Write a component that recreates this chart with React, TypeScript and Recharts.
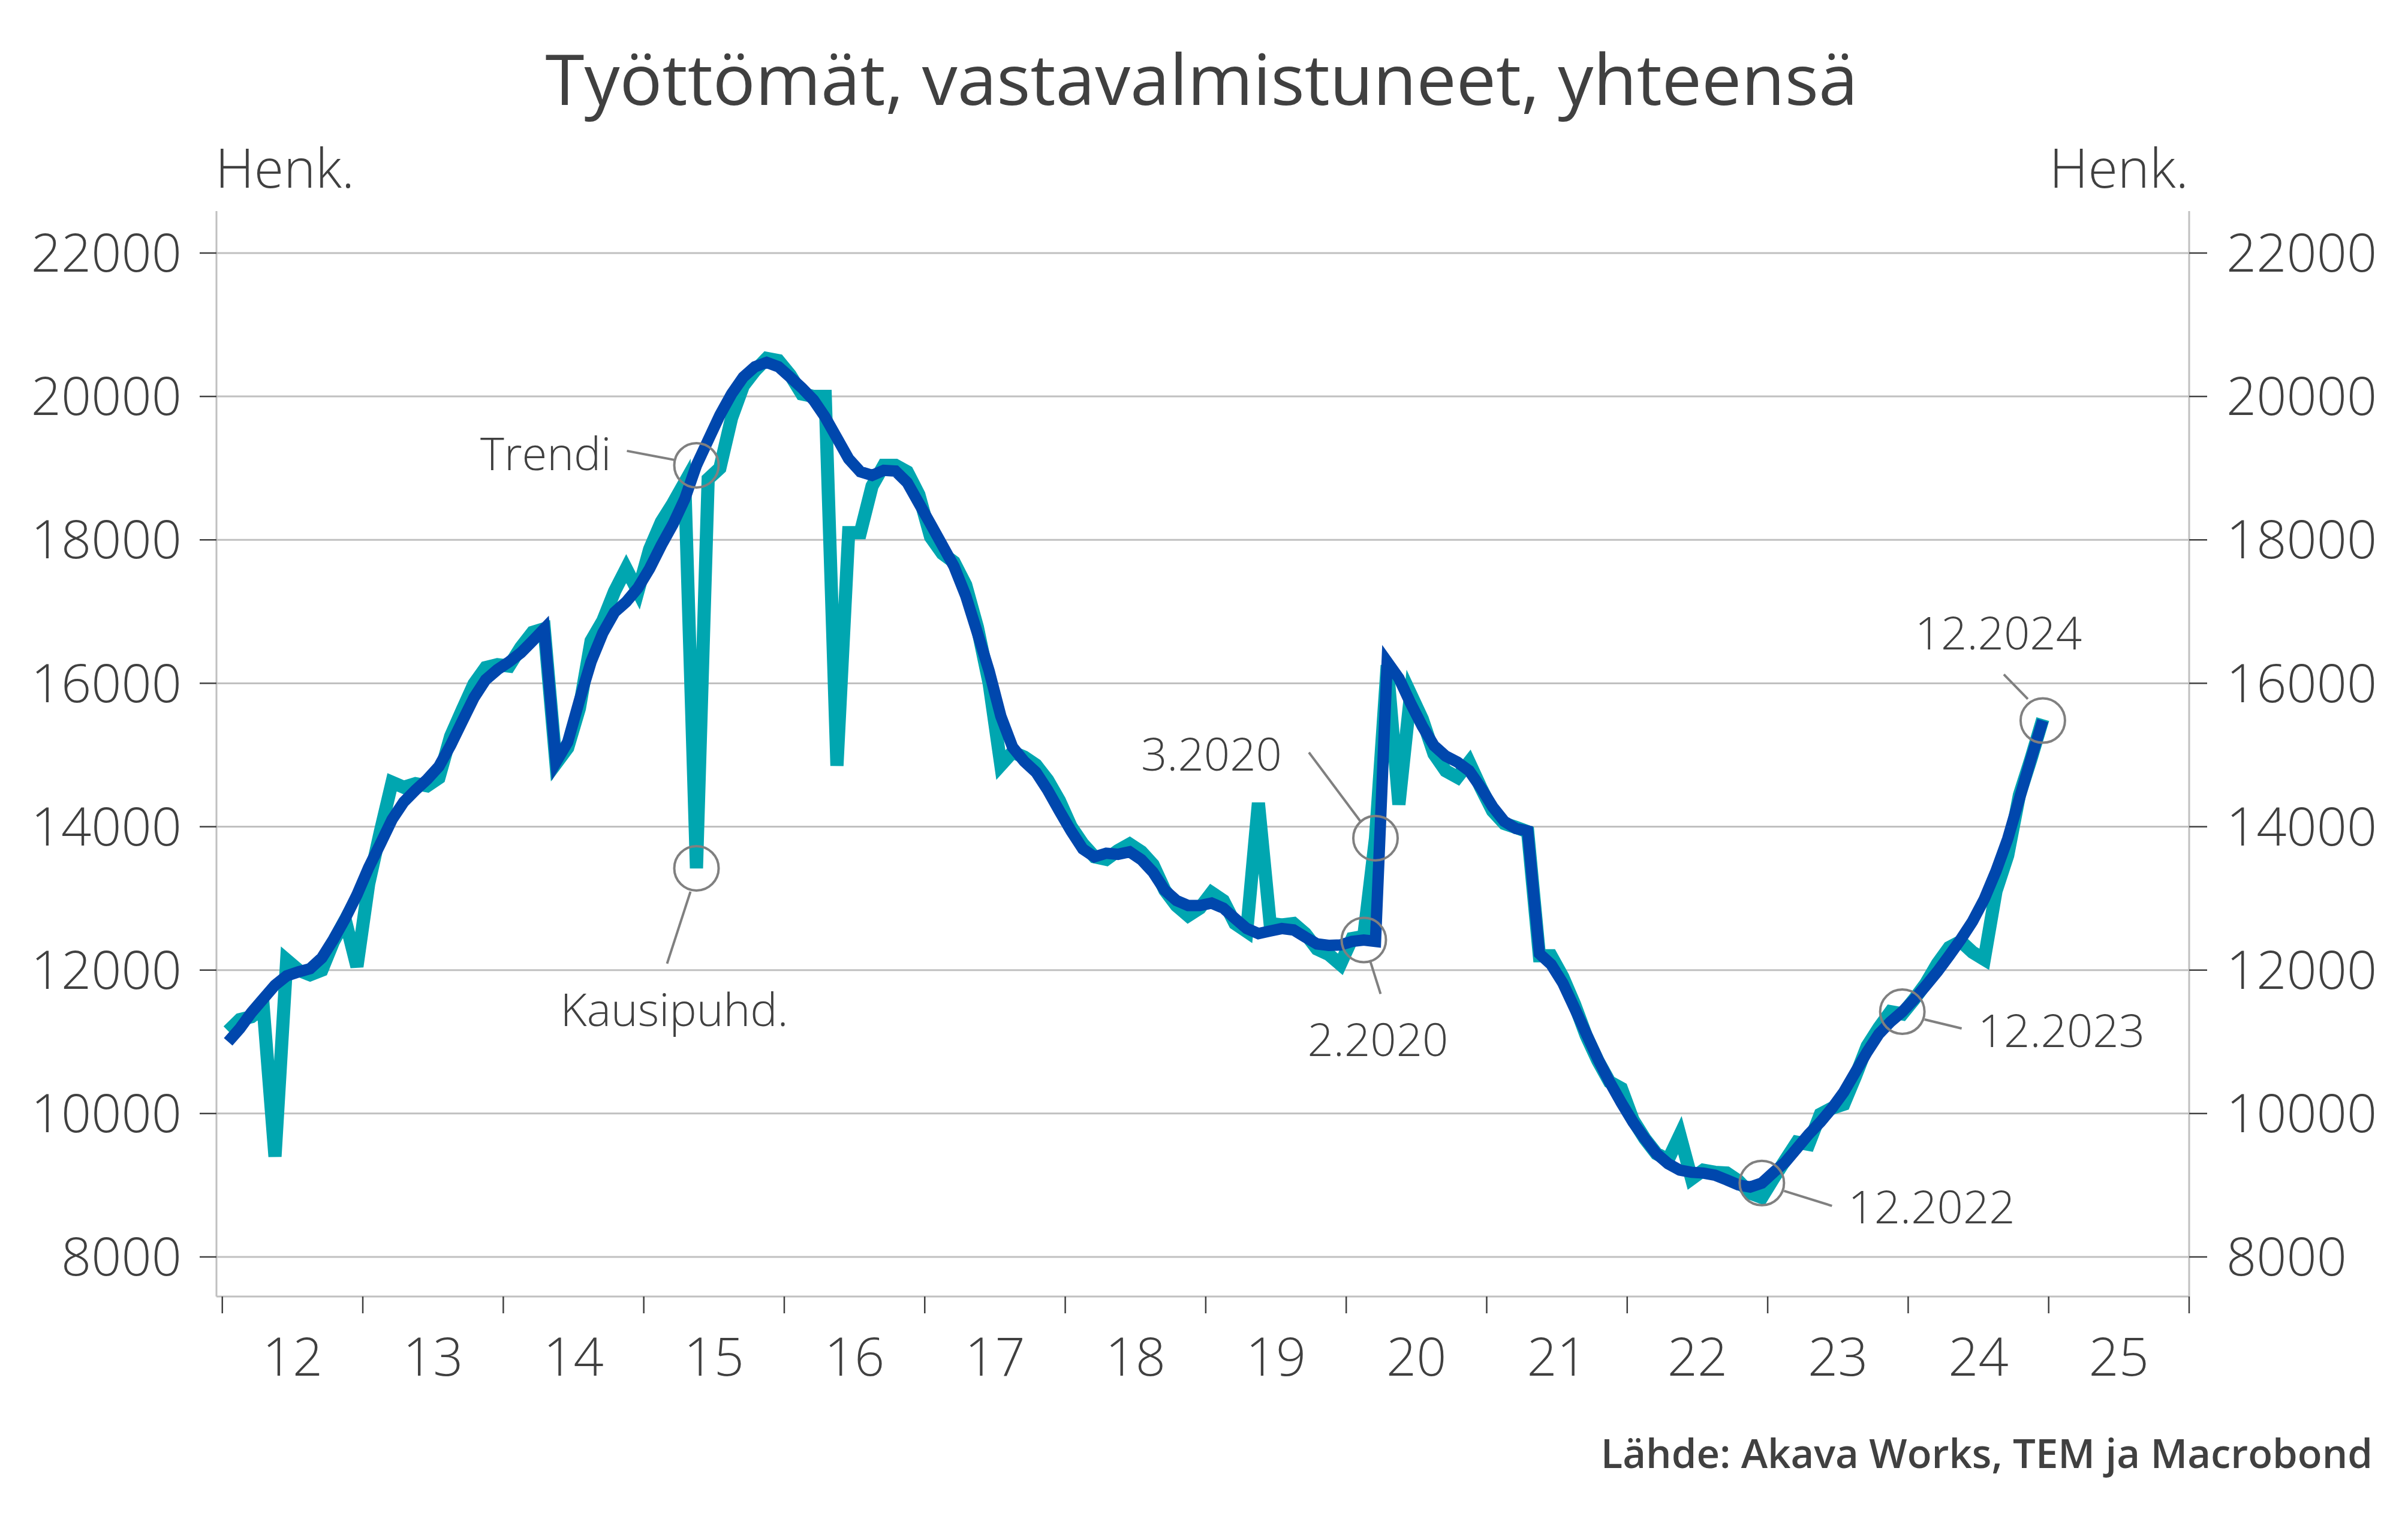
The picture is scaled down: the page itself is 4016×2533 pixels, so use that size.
import React from "react";
import {
  LineChart,
  Line,
  XAxis,
  YAxis,
  CartesianGrid,
  ReferenceDot,
} from "recharts";

// monthly values, 1.2012 ... 12.2024
const seasonallyAdjusted = [
  11150, 11310, 11350, 11475, 9400, 12140, 12000, 11935, 12000, 12400, 12700, 12050,
  13200, 13930, 14620, 14550, 14600, 14570, 14680, 15260, 15630, 15990, 16220, 16260,
  16240, 16500, 16710, 16760, 14880, 15100, 15650, 16590, 16870, 17280, 17600, 17280,
  17870, 18250, 18510, 18800, 13420, 18850, 19000, 19700, 20150, 20360, 20530, 20500,
  20300, 20035, 20000, 20000, 14850, 18100, 18100, 18750, 19040, 19040, 18950, 18630,
  18040, 17810, 17690, 17370, 16780, 16000, 14860, 15040, 14970, 14860, 14650, 14365,
  14000, 13760, 13580, 13545, 13665, 13757, 13650, 13470, 13115, 12900, 12760, 12865,
  13080, 12970, 12650, 12540, 14330, 12650, 12630, 12650, 12510, 12295, 12220, 12080,
  12440, 12470, 13840, 16250, 14310, 15850, 15500, 15015, 14780, 14690, 14900, 14545,
  14220, 14045, 13990, 13930, 12200, 12200, 11905, 11525, 11085, 10735, 10440, 10350,
  9910, 9650, 9440, 9355, 9700, 9090, 9210, 9180, 9170, 9060, 8890, 8830,
  9095, 9350, 9600, 9570, 9990, 10075, 10130, 10520, 10940, 11195, 11420, 11390,
  11590, 11810, 12090, 12315, 12400, 12250, 12150, 13100, 13600, 14440, 14950, 15500,
];

const trend = [
  11000, 11185, 11410, 11600, 11790, 11920, 11975, 12020, 12170, 12430, 12720, 13050,
  13430, 13760, 14100, 14345, 14510, 14660, 14840, 15135, 15470, 15800, 16050, 16190,
  16300, 16425, 16590, 16760, 14900, 15180, 15760, 16300, 16700, 16990, 17135, 17330,
  17600, 17925, 18220, 18570, 19040, 19390, 19740, 20035, 20270, 20415, 20475, 20415,
  20270, 20120, 19950, 19710, 19420, 19130, 18950, 18900, 18970, 18960, 18800, 18510,
  18220, 17925, 17630, 17220, 16700, 16170, 15540, 15110, 14910, 14760, 14510, 14220,
  13940, 13690, 13580, 13630, 13615, 13650, 13540, 13365, 13115, 12970, 12900, 12900,
  12935, 12865, 12720, 12580, 12510, 12545, 12580, 12560, 12460, 12365, 12345, 12350,
  12400, 12420, 12400, 16300, 16070, 15720, 15400, 15130, 14985, 14900, 14780, 14545,
  14280, 14075, 13975, 13940, 12230, 12080, 11820, 11470, 11115, 10760, 10440, 10150,
  9880, 9650, 9440, 9300, 9210, 9180, 9170, 9140, 9075, 9005, 8975, 9030,
  9180, 9320, 9515, 9710, 9880, 10075, 10300, 10580, 10860, 11110, 11280, 11420,
  11590, 11780, 11980, 12200, 12430, 12680, 12990, 13380, 13830, 14390, 14950, 15480,
];

const yearLabels = ["12", "13", "14", "15", "16", "17", "18", "19", "20", "21", "22", "23", "24", "25"];
const yTicks = [8000, 10000, 12000, 14000, 16000, 18000, 20000, 22000];

// x is months since 1.2012, each point sits mid-month
const rows = trend.map((v, i) => ({ t: i + 0.5, sa: seasonallyAdjusted[i], trend: v }));
const yearTicks = yearLabels.map((_, i) => i * 12).concat([yearLabels.length * 12]);
const labelTicks = yearLabels.map((_, i) => i * 12 + 6);

type Note = {
  text: string;
  month: number;
  series: "sa" | "trend";
  line: [number, number, number, number];
  tx: number;
  ty: number;
  anchor: "start" | "middle" | "end";
};

const notes: Note[] = [
  { text: "Trendi", month: 40, series: "trend", line: [-116, -24, -37, -9], tx: -142, ty: 8, anchor: "end" },
  { text: "Kausipuhd.", month: 40, series: "sa", line: [-10, 39, -49, 159], tx: -227, ty: 263, anchor: "start" },
  { text: "3.2020", month: 98, series: "sa", line: [-111, -143, -25, -28], tx: -156, ty: -113, anchor: "end" },
  { text: "2.2020", month: 97, series: "trend", line: [11, 36, 28, 90], tx: -94, ty: 194, anchor: "start" },
  { text: "12.2022", month: 131, series: "trend", line: [37, 13, 117, 38], tx: 144, ty: 67, anchor: "start" },
  { text: "12.2023", month: 143, series: "trend", line: [37, 13, 99, 28], tx: 126, ty: 59, anchor: "start" },
  { text: "12.2024", month: 155, series: "trend", line: [-65, -77, -25, -36], tx: -74, ty: -119, anchor: "middle" },
];

const W = 4016;
const H = 2533;
const TEXT = "#404040";
const GRID = "#c0c0c0";
const FONT = "'Open Sans', 'Noto Sans', sans-serif";

const noteShape = (n: Note) => (p: any) => (
  <g>
    <circle cx={p.cx} cy={p.cy} r={37} fill="none" stroke="#808080" strokeWidth={4} />
    <line
      x1={p.cx + n.line[0]}
      y1={p.cy + n.line[1]}
      x2={p.cx + n.line[2]}
      y2={p.cy + n.line[3]}
      stroke="#808080"
      strokeWidth={4}
    />
    <text
      x={p.cx + n.tx}
      y={p.cy + n.ty}
      textAnchor={n.anchor}
      fontSize={76}
      fontWeight={300}
      fill={TEXT}
    >
      {n.text}
    </text>
  </g>
);

const axisTick = { fill: TEXT, fontSize: 88, fontWeight: 300 };

export default function App() {
  return (
    <div style={{ position: "absolute", left: 0, top: 0, width: W, height: H, background: "#fff", fontFamily: FONT }}>
      <LineChart width={W} height={H} data={rows} margin={{ top: 352, right: 0, bottom: 181, left: 0 }}>
        <CartesianGrid vertical={false} syncWithTicks stroke={GRID} strokeWidth={3} yAxisId="left" xAxisId="a" />
        <XAxis
          xAxisId="a"
          dataKey="t"
          type="number"
          domain={[-0.5, 168]}
          allowDataOverflow
          ticks={yearTicks}
          interval={0}
          tick={() => <g />}
          tickSize={28}
          height={40}
          axisLine={{ stroke: GRID, strokeWidth: 3 }}
          tickLine={{ stroke: TEXT, strokeWidth: 2.5 }}
        />
        <XAxis
          xAxisId="b"
          dataKey="t"
          type="number"
          domain={[-0.5, 168]}
          allowDataOverflow
          ticks={labelTicks}
          interval={0}
          tickFormatter={(v: number) => yearLabels[Math.round((v - 6) / 12)]}
          axisLine={false}
          tickLine={false}
          tickSize={0}
          tickMargin={30}
          height={150}
          tick={axisTick}
        />
        <YAxis
          yAxisId="left"
          orientation="left"
          width={361}
          domain={[7448, 22585]}
          allowDataOverflow
          ticks={yTicks}
          interval={0}
          tickSize={28}
          tickMargin={30}
          tick={axisTick}
          axisLine={{ stroke: GRID, strokeWidth: 3 }}
          tickLine={{ stroke: TEXT, strokeWidth: 2.5 }}
        />
        <YAxis
          yAxisId="right"
          orientation="right"
          width={365}
          domain={[7448, 22585]}
          allowDataOverflow
          ticks={yTicks}
          interval={0}
          tickSize={30}
          tickMargin={32}
          tick={axisTick}
          axisLine={{ stroke: GRID, strokeWidth: 3 }}
          tickLine={{ stroke: TEXT, strokeWidth: 2.5 }}
        />
        <Line
          xAxisId="a"
          yAxisId="left"
          dataKey="sa"
          type="linear"
          stroke="#00a6b0"
          strokeWidth={22}
          dot={false}
          activeDot={false}
          isAnimationActive={false}
        />
        <Line
          xAxisId="a"
          yAxisId="right"
          dataKey="trend"
          type="linear"
          stroke="#0047ad"
          strokeWidth={19}
          dot={false}
          activeDot={false}
          isAnimationActive={false}
        />
        {notes.map((n) => (
          <ReferenceDot
            key={n.text}
            xAxisId="a"
            yAxisId="left"
            x={n.month + 0.5}
            y={n.series === "sa" ? seasonallyAdjusted[n.month] : trend[n.month]}
            r={37}
            shape={noteShape(n)}
          />
        ))}
      </LineChart>
      <svg width={W} height={H} style={{ position: "absolute", left: 0, top: 0, pointerEvents: "none" }}>
        <text x={2004} y={175} textAnchor="middle" fontSize={118} fill={TEXT}>
          Työttömät, vastavalmistuneet, yhteensä
        </text>
        <text x={359} y={313} fontSize={90} fontWeight={300} fill={TEXT}>
          Henk.
        </text>
        <text x={3650} y={313} textAnchor="end" fontSize={90} fontWeight={300} fill={TEXT}>
          Henk.
        </text>
        <text x={3957} y={2448} textAnchor="end" fontSize={67} fontWeight={600} fill={TEXT}>
          Lähde: Akava Works, TEM ja Macrobond
        </text>
      </svg>
    </div>
  );
}
